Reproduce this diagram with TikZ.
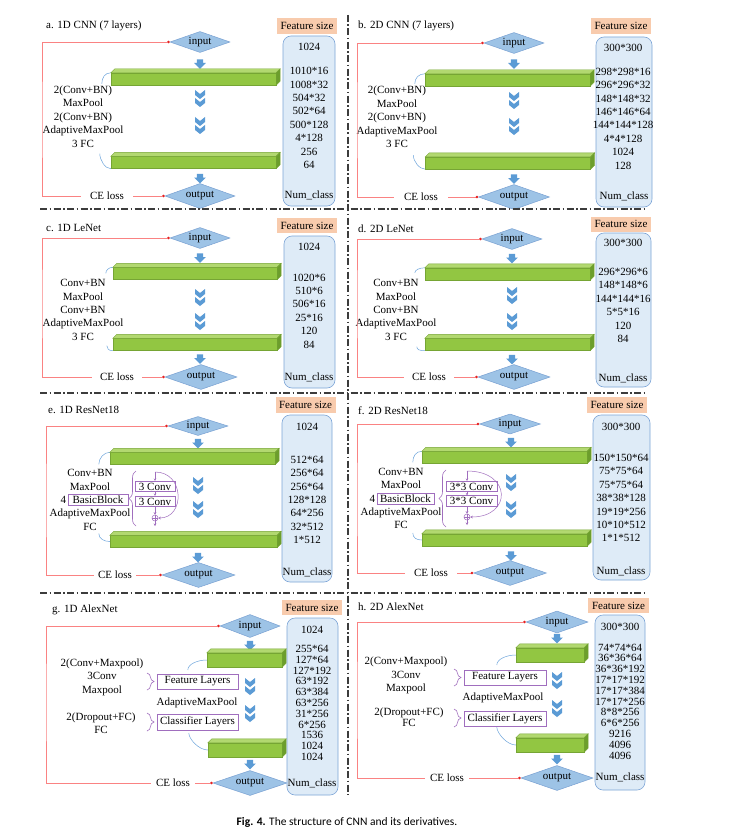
\documentclass[tikz,border=0pt]{standalone}
\usepackage{fontspec}
\setmainfont{Liberation Serif}
\newfontfamily\capfont{Carlito}
\usetikzlibrary{shapes.geometric,shapes.arrows,arrows.meta,decorations.pathreplacing}
\definecolor{diafill}{RGB}{157,195,230}
\definecolor{diadraw}{RGB}{120,160,210}
\definecolor{arrblue}{RGB}{91,155,213}
\definecolor{colfill}{RGB}{222,235,247}
\definecolor{coldraw}{RGB}{125,165,215}
\definecolor{fszfill}{RGB}{248,203,173}
\definecolor{barfront}{RGB}{146,198,66}
\definecolor{bartop}{RGB}{178,216,112}
\definecolor{barside}{RGB}{108,158,44}
\definecolor{bardraw}{RGB}{118,165,52}
\definecolor{lossred}{RGB}{250,130,130}
\definecolor{dotred}{RGB}{230,30,30}
\definecolor{purp}{RGB}{160,110,190}
\definecolor{curveblue}{RGB}{110,165,220}
\definecolor{sepgray}{RGB}{60,60,60}
\begin{document}
\begin{tikzpicture}
	[	x=1pt, y=-1pt,
		every node/.style={font=\fontsize{11pt}{13.4pt}\selectfont, inner sep=1pt},
		paneltitle/.style={anchor=west},
		fsz/.style={fill=fszfill, minimum width=60pt, minimum height=16pt, inner sep=0pt},
		col/.style={rectangle, rounded corners=8pt, draw=coldraw, line width=0.6pt, fill=colfill, inner sep=0pt},
		vals/.style={align=center},
		tightvals/.style={align=center, font=\fontsize{11pt}{10.8pt}\selectfont},
		diam/.style={diamond, shape aspect=3, inner sep=0pt, draw=diadraw, line width=0.5pt, fill=diafill, minimum width=60pt, minimum height=21pt},
		darr/.style={single arrow, shape border rotate=270, fill=arrblue, minimum height=9.5pt, single arrow head extend=2.7pt, inner sep=3pt},
		dchev/.style={insert path={+(-5,0) -- +(0,4) -- +(5,0) -- +(5,5) -- +(0,9) -- +(-5,5) -- +(-5,0)
			+(-5,8) -- +(0,12) -- +(5,8) -- +(5,13) -- +(0,17) -- +(-5,13) -- +(-5,8)}},
		bar/.style={rectangle, draw=bardraw, line width=0.4pt, fill=barfront, minimum height=12pt, inner sep=0pt},
		bartopf/.style={fill=bartop, draw=bardraw, line width=0.4pt},
		barsidef/.style={fill=barside, draw=bardraw, line width=0.4pt},
		layers/.style={align=center},
		bendlink/.style={draw=curveblue, line width=0.5pt},
		ce/.style={inner xsep=8pt},
		loss/.style={draw=lossred, line width=0.6pt, -{Circle[length=2.6pt,color=dotred]}},
		blk/.style={draw=purp, line width=0.6pt, inner sep=1pt, minimum height=11pt},
		brc/.style={draw=purp, line width=0.6pt, decorate, decoration={brace, amplitude=7pt}},
		pline/.style={draw=purp, line width=0.5pt, -{Stealth[length=2.5pt,width=2.5pt]}},
		plus/.style={circle, draw=purp, line width=0.5pt, minimum size=6pt, inner sep=0pt},
		divider/.style={draw=sepgray, line width=1.1pt, dash pattern=on 7pt off 2.5pt on 1.5pt off 2.5pt},
	]
	\path[fill=white, use as bounding box] (0,0) rectangle (728,832);

	% a. 1D CNN
	\node[paneltitle] (atitle) at (45,26) {a. 1D CNN (7 layers)};
	\node[fsz] (afs) at (307,26) {Feature size};
	\node[col, minimum width=52pt, minimum height=170pt] (acol) at (309,121) {};
	\node (av0) at (309,47) {1024};
	\node[vals] (av) at (309,118) {1010*16\\1008*32\\504*32\\502*64\\500*128\\4*128\\256\\64};
	\node (avn) at (309,195) {Num\_class};
	\node[diam] (ain) at (200,42) {input};
	\node[darr] (aup) at (200,62.5) {};
	\node[bar, minimum width=165pt] (a1) at (193.5,79) {};
	\fill[arrblue] (200,90) [dchev];
	\fill[arrblue] (200,117) [dchev];
	\node[bar, minimum width=165pt] (a2) at (193.5,162.5) {};
	\node[darr] (adn) at (200,177) {};
	\node[diam, minimum width=70pt, minimum height=25pt] (aout) at (200,196) {output};
	\node[layers] (atx) at (83,116.5) {2(Conv+BN)\\MaxPool\\2(Conv+BN)\\AdaptiveMaxPool\\3 FC};
	\draw[bendlink] (a1.north west) .. controls +(-6,0) and +(0,-6) .. ++(-9,11);
	\draw[bendlink] (a2.south west) .. controls +(-6,0) and +(0,6) .. ++(-11,-15);
	\node[ce, inner xsep=9pt] (ace) at (107,196) {CE loss};
	\coordinate (aL) at (42,120);
	\draw[loss] (ace.west) -| (aL) |- (ain.west);
	\draw[loss] (ace.east) -- (aout.west);

	% b. 2D CNN
	\node[paneltitle] (btitle) at (357,26) {b. 2D CNN (7 layers)};
	\node[fsz] (bfs) at (621,26) {Feature size};
	\node[col, minimum width=56pt, minimum height=170pt] (bcol) at (624,122) {};
	\node (bv0) at (623,48) {300*300};
	\node[vals] (bv) at (623,118.5) {298*298*16\\296*296*32\\148*148*32\\146*146*64\\144*144*128\\4*4*128\\1024\\128};
	\node (bvn) at (624,196) {Num\_class};
	\node[diam] (bin) at (514,43) {input};
	\node[darr] (bup) at (514,62.5) {};
	\node[bar, minimum width=165pt] (b1) at (507.5,80) {};
	\fill[arrblue] (514,92) [dchev];
	\fill[arrblue] (514,118) [dchev];
	\node[bar, minimum width=165pt] (b2) at (508,163) {};
	\node[darr] (bdn) at (514,177.5) {};
	\node[diam, minimum width=71pt, minimum height=25pt] (bout) at (514,197) {output};
	\node[layers] (btx) at (397,117) {2(Conv+BN)\\MaxPool\\2(Conv+BN)\\AdaptiveMaxPool\\3 FC};
	\draw[bendlink] (b1.north west) .. controls +(-6,0) and +(0,-6) .. ++(-10,10);
	\draw[bendlink] (b2.south west) .. controls +(-6,0) and +(0,6) .. ++(-12,-14);
	\node[ce, inner xsep=10pt] (bce) at (421,197) {CE loss};
	\coordinate (bL) at (357,120);
	\draw[loss] (bce.west) -| (bL) |- (bin.west);
	\draw[loss] (bce.east) -- (bout.west);

	% c. 1D LeNet
	\node[paneltitle] (ctitle) at (45,228) {c. 1D LeNet};
	\node[fsz, minimum height=15pt] (cfs) at (307,225.5) {Feature size};
	\node[col, minimum width=51pt, minimum height=152pt] (ccol) at (309.5,312) {};
	\node (cv0) at (309,247) {1024};
	\node[vals] (cv) at (309,311) {1020*6\\510*6\\506*16\\25*16\\120\\84};
	\node (cvn) at (309,377) {Num\_class};
	\node[diam] (cin) at (200,238) {input};
	\node[darr] (cup) at (200,256.5) {};
	\node[bar, minimum width=164pt] (c1) at (195,273.5) {};
	\fill[arrblue] (200,289) [dchev];
	\fill[arrblue] (200,313) [dchev];
	\node[bar, minimum width=164pt] (c2) at (195,344.5) {};
	\node[darr] (cdn) at (200,357.5) {};
	\node[diam, minimum width=72pt, minimum height=25pt] (cout) at (201,377) {output};
	\node[layers] (ctx) at (83,310) {Conv+BN\\MaxPool\\Conv+BN\\AdaptiveMaxPool\\3 FC};
	\draw[bendlink] (c1.north west) .. controls +(-4,0) and +(0,-3) .. ++(-7,6);
	\draw[bendlink] (c2.south west) .. controls +(-4,0) and +(0,3) .. ++(-6,-5);
	\node[ce, inner xsep=8pt] (cce) at (117,377) {CE loss};
	\coordinate (cL) at (42,300);
	\draw[loss] (cce.west) -| (cL) |- (cin.west);
	\draw[loss] (cce.east) -- (cout.west);

	% d. 2D LeNet
	\node[paneltitle] (dtitle) at (357,229) {d. 2D LeNet};
	\node[fsz, minimum height=15pt] (dfs) at (621,224) {Feature size};
	\node[col, minimum width=55pt, minimum height=154pt] (dcol) at (623.5,310) {};
	\node (dv0) at (623,243) {300*300};
	\node[vals] (dv) at (623,305.5) {296*296*6\\148*148*6\\144*144*16\\5*5*16\\120\\84};
	\node (dvn) at (623,378) {Num\_class};
	\node[diam] (din) at (512,239) {input};
	\node[darr] (dup) at (512,257) {};
	\node[bar, minimum width=165pt] (d1) at (507.5,274) {};
	\fill[arrblue] (512,287) [dchev];
	\fill[arrblue] (512,313) [dchev];
	\node[bar, minimum width=165pt] (d2) at (507.5,344.5) {};
	\node[darr] (ddn) at (512,358) {};
	\node[diam, minimum width=72pt, minimum height=25pt] (dout) at (514,377) {output};
	\node[layers] (dtx) at (396,310) {Conv+BN\\MaxPool\\Conv+BN\\AdaptiveMaxPool\\3 FC};
	\draw[bendlink] (d1.north west) .. controls +(-5,0) and +(0,-3) .. ++(-10,5);
	\draw[bendlink] (d2.south west) .. controls +(-5,0) and +(0,3) .. ++(-8,-4);
	\node[ce, inner xsep=8pt] (dce) at (429,377) {CE loss};
	\coordinate (dL) at (357,300);
	\draw[loss] (dce.west) -| (dL) |- (din.west);
	\draw[loss] (dce.east) -- (dout.west);

	% e. 1D ResNet18
	\node[paneltitle] (etitle) at (47,410) {e. 1D ResNet18};
	\node[fsz] (efs) at (305.5,405) {Feature size};
	\node[col, minimum width=50pt, minimum height=167pt] (ecol) at (307,498.5) {};
	\node (ev0) at (307,427) {1024};
	\node[vals] (ev) at (307,500) {512*64\\256*64\\256*64\\128*128\\64*256\\32*512\\1*512};
	\node (evn) at (307,572) {Num\_class};
	\node[diam, minimum height=19pt] (ein) at (198,426) {input};
	\node[darr] (eup) at (198,442) {};
	\node[bar, minimum width=165pt] (e1) at (192.5,458.5) {};
	\fill[arrblue] (198,477) [dchev];
	\fill[arrblue] (198,501) [dchev];
	\node[bar, minimum width=167pt] (e2) at (193.5,541.5) {};
	\node[darr] (edn) at (198,556) {};
	\node[diam, minimum width=73pt, minimum height=25pt] (eout) at (198.5,575) {output};
	\node[layers] (etx) at (90,500) {Conv+BN\\MaxPool\\\mbox{}\\AdaptiveMaxPool\\FC};
	\node[blk, minimum width=60pt] (ebb) at (98,499.5) {BasicBlock};
	\node[anchor=east] (e4) at ([xshift=-0.5pt]ebb.west) {4};
	\draw[brc] (136,526) -- (136,471);
	\coordinate (etop) at (155,472);
	\node[blk, minimum width=40pt, minimum height=10.5pt] (ec1) at (155,486.5) {3 Conv};
	\node[blk, minimum width=40pt, minimum height=10.5pt] (ec2) at (155,501.5) {3 Conv};
	\node[plus] (eplus) at (155,518) {};
	\draw[purp, line width=0.5pt] (eplus.north) -- (eplus.south) (eplus.west) -- (eplus.east);
	\coordinate (ebot) at (155,526);
	\draw[pline] (etop) -- (ec1);
	\draw[pline] (ec1) -- (ec2);
	\draw[pline] (ec2) -- (eplus);
	\draw[pline] (eplus) -- (ebot);
	\draw[pline] (etop) .. controls (185,472) and (185,518) .. (eplus.east);
	\draw[bendlink] (e1.north west) .. controls +(-6,0) and +(0,-6) .. ++(-11,12);
	\draw[bendlink] (e2.west) .. controls +(-6,0) and +(0,5) .. ++(-11,-8);
	\node[ce, inner xsep=4pt] (ece) at (115,575) {CE loss};
	\coordinate (eL) at (46,500);
	\draw[loss] (ece.west) -| (eL) |- (ein.west);
	\draw[loss] (ece.east) -- (eout.west);

	% f. 2D ResNet18
	\node[paneltitle] (ftitle) at (357,411) {f. 2D ResNet18};
	\node[fsz] (ffs) at (617,405) {Feature size};
	\node[col, minimum width=57pt, minimum height=165pt] (fcol) at (621.5,497.5) {};
	\node (fv0) at (621,427) {300*300};
	\node[vals] (fv) at (621,498) {150*150*64\\75*75*64\\75*75*64\\38*38*128\\19*19*256\\10*10*512\\1*1*512};
	\node (fvn) at (621,571) {Num\_class};
	\node[diam, minimum width=61pt, minimum height=20pt] (fin) at (510,424) {input};
	\node[darr] (fup) at (511,441) {};
	\node[bar, minimum width=165pt] (f1) at (504.5,457.5) {};
	\fill[arrblue] (511,474) [dchev];
	\fill[arrblue] (511,501) [dchev];
	\node[bar, minimum width=165pt] (f2) at (504.5,540) {};
	\node[darr] (fdn) at (511,554.5) {};
	\node[diam, minimum width=73pt, minimum height=25pt] (fout) at (510,573) {output};
	\node[layers] (ftx) at (401,498.5) {Conv+BN\\MaxPool\\\mbox{}\\AdaptiveMaxPool\\FC};
	\node[blk, minimum width=57pt] (fbb) at (405.5,498.5) {BasicBlock};
	\node[anchor=east] (f4) at ([xshift=-0.5pt]fbb.west) {4};
	\draw[brc] (446,527) -- (446,470);
	\coordinate (ftop) at (467,471);
	\node[blk, minimum width=51pt, minimum height=10.5pt] (fc1) at (471.5,486.5) {3*3 Conv};
	\node[blk, minimum width=51pt, minimum height=10.5pt] (fc2) at (471.5,501) {3*3 Conv};
	\node[plus] (fplus) at (467,517) {};
	\draw[purp, line width=0.5pt] (fplus.north) -- (fplus.south) (fplus.west) -- (fplus.east);
	\coordinate (fbot) at (467,525);
	\draw[pline] (ftop) -- (ftop |- fc1.north);
	\draw[pline] (ftop |- fc1.south) -- (ftop |- fc2.north);
	\draw[pline] (ftop |- fc2.south) -- (fplus);
	\draw[pline] (fplus) -- (fbot);
	\draw[pline] (ftop) .. controls (512,471) and (512,517) .. (fplus.east);
	\draw[bendlink] (f1.north west) .. controls +(-6,0) and +(0,-6) .. ++(-9,11);
	\draw[bendlink] (f2.west) .. controls +(-5,0) and +(0,5) .. ++(-9,-7);
	\node[ce, inner xsep=9pt] (fce) at (431,573) {CE loss};
	\coordinate (fL) at (357,500);
	\draw[loss] (fce.west) -| (fL) |- (fin.west);
	\draw[loss] (fce.east) -- (fout.west);

	% g. 1D AlexNet
	\node[paneltitle] (gtitle) at (51,610) {g. 1D AlexNet};
	\node[fsz, minimum height=15pt] (gfs) at (312,607.5) {Feature size};
	\node[col, minimum width=51pt, minimum height=177pt] (gcol) at (312.5,706.5) {};
	\node (gv0) at (312,630) {1024};
	\node[tightvals] (gv) at (312,703) {255*64\\127*64\\127*192\\63*192\\63*384\\63*256\\31*256\\6*256\\1536\\1024\\1024};
	\node (gvn) at (312,783) {Num\_class};
	\node[diam, minimum height=23pt] (gin) at (250,626) {input};
	\node[darr] (gup) at (250,644) {};
	\node[bar, minimum width=75pt, minimum height=14pt] (g1) at (244.5,660) {};
	\fill[arrblue] (250,678) [dchev];
	\fill[arrblue] (250,705) [dchev];
	\node[bar, minimum width=74pt, minimum height=14pt] (g2) at (245,750) {};
	\node[darr] (gdn) at (250,763) {};
	\node[diam, minimum width=74pt, minimum height=25pt] (gout) at (250,783) {output};
	\node[layers] (gtx1) at (102,677) {2(Conv+Maxpool)\\3Conv\\Maxpool};
	\node (gamp) at (197,703) {AdaptiveMaxPool};
	\node[layers] (gtx2) at (101,723.5) {2(Dropout+FC)\\FC};
	\node[blk, minimum width=81pt, minimum height=15pt] (gfl) at (197.5,681.5) {Feature Layers};
	\node[blk, minimum width=81pt, minimum height=16pt] (gcl) at (197.5,722) {Classifier Layers};
	\draw[brc] (147,673) -- (147,690);
	\draw[brc] (147,713) -- (147,731);
	\draw[bendlink] (g1.west) .. controls +(-9,0) and +(0,-6) .. ++(-19,10);
	\draw[bendlink] (g2.west) .. controls +(-9,0) and +(0,6) .. ++(-19,-17);
	\node[ce, inner xsep=5pt] (gce) at (173,783) {CE loss};
	\coordinate (gL) at (46,700);
	\draw[loss] (gce.west) -| (gL) |- (gin.west);
	\draw[loss] (gce.east) -- (gout.west);

	% h. 2D AlexNet
	\node[paneltitle] (htitle) at (357,607) {h. 2D AlexNet};
	\node[fsz, minimum width=61pt, minimum height=15pt] (hfs) at (618.5,605.5) {Feature size};
	\node[col, minimum width=50pt, minimum height=175pt] (hcol) at (620,702.5) {};
	\node (hv0) at (620,627) {300*300};
	\node[tightvals] (hv) at (620,701.5) {74*74*64\\36*36*64\\36*36*192\\17*17*192\\17*17*384\\17*17*256\\8*8*256\\6*6*256\\9216\\4096\\4096};
	\node (hvn) at (620,777) {Num\_class};
	\node[diam, minimum width=62pt, minimum height=22pt] (hin) at (557,622) {input};
	\node[darr] (hup) at (557,637) {};
	\node[bar, minimum width=68pt, minimum height=14pt] (h1) at (550,655) {};
	\fill[arrblue] (557,672) [dchev];
	\fill[arrblue] (557,700) [dchev];
	\node[bar, minimum width=68pt, minimum height=14pt] (h2) at (550,745) {};
	\node[darr] (hdn) at (557,758) {};
	\node[diam, minimum width=72pt, minimum height=25pt] (hout) at (557,778) {output};
	\node[layers] (htx1) at (406,675.5) {2(Conv+Maxpool)\\3Conv\\Maxpool};
	\node (hamp) at (503,698) {AdaptiveMaxPool};
	\node[layers, font=\fontsize{11pt}{11pt}\selectfont] (htx2) at (409,717.5) {2(Dropout+FC)\\FC};
	\node[blk, minimum width=82pt, minimum height=15pt] (hfl) at (505,677.5) {Feature Layers};
	\node[blk, minimum width=82pt, minimum height=15pt] (hcl) at (505,718.5) {Classifier Layers};
	\draw[brc] (454,669) -- (454,686);
	\draw[brc] (454,709) -- (454,727);
	\draw[bendlink] (h1.west) .. controls +(-9,0) and +(0,-6) .. ++(-19,10);
	\draw[bendlink] (h2.west) .. controls +(-9,0) and +(0,6) .. ++(-19,-18);
	\node[ce, inner xsep=5pt] (hce) at (447,778) {CE loss};
	\coordinate (hL) at (357,700);
	\draw[loss] (hce.west) -| (hL) |- (hin.west);
	\draw[loss] (hce.east) -- (hout.west);

	% 3D faces of the green bars
	\foreach \b in {a1,a2,b1,b2,c1,c2,d1,d2,e1,e2,f1,f2,g1,g2,h1,h2}{
		\filldraw[bartopf] (\b.north west) -- ++(4,-4) -- ([shift={(4,-4)}]\b.north east) -- (\b.north east) -- cycle;
		\filldraw[barsidef] (\b.north east) -- ++(4,-4) -- ([shift={(4,-4)}]\b.south east) -- (\b.south east) -- cycle;
	}

	% panel dividers
	\draw[divider] (40,209) -- (647,209);
	\draw[divider] (40,393) -- (647,393);
	\draw[divider] (40,593) -- (647,593);
	\draw[divider] (348,15) -- (348,795);

	\node[font=\capfont\fontsize{11.5pt}{13pt}\selectfont] (cap) at (347,822) {\textbf{Fig. 4.} The structure of CNN and its derivatives.};
\end{tikzpicture}
\end{document}
